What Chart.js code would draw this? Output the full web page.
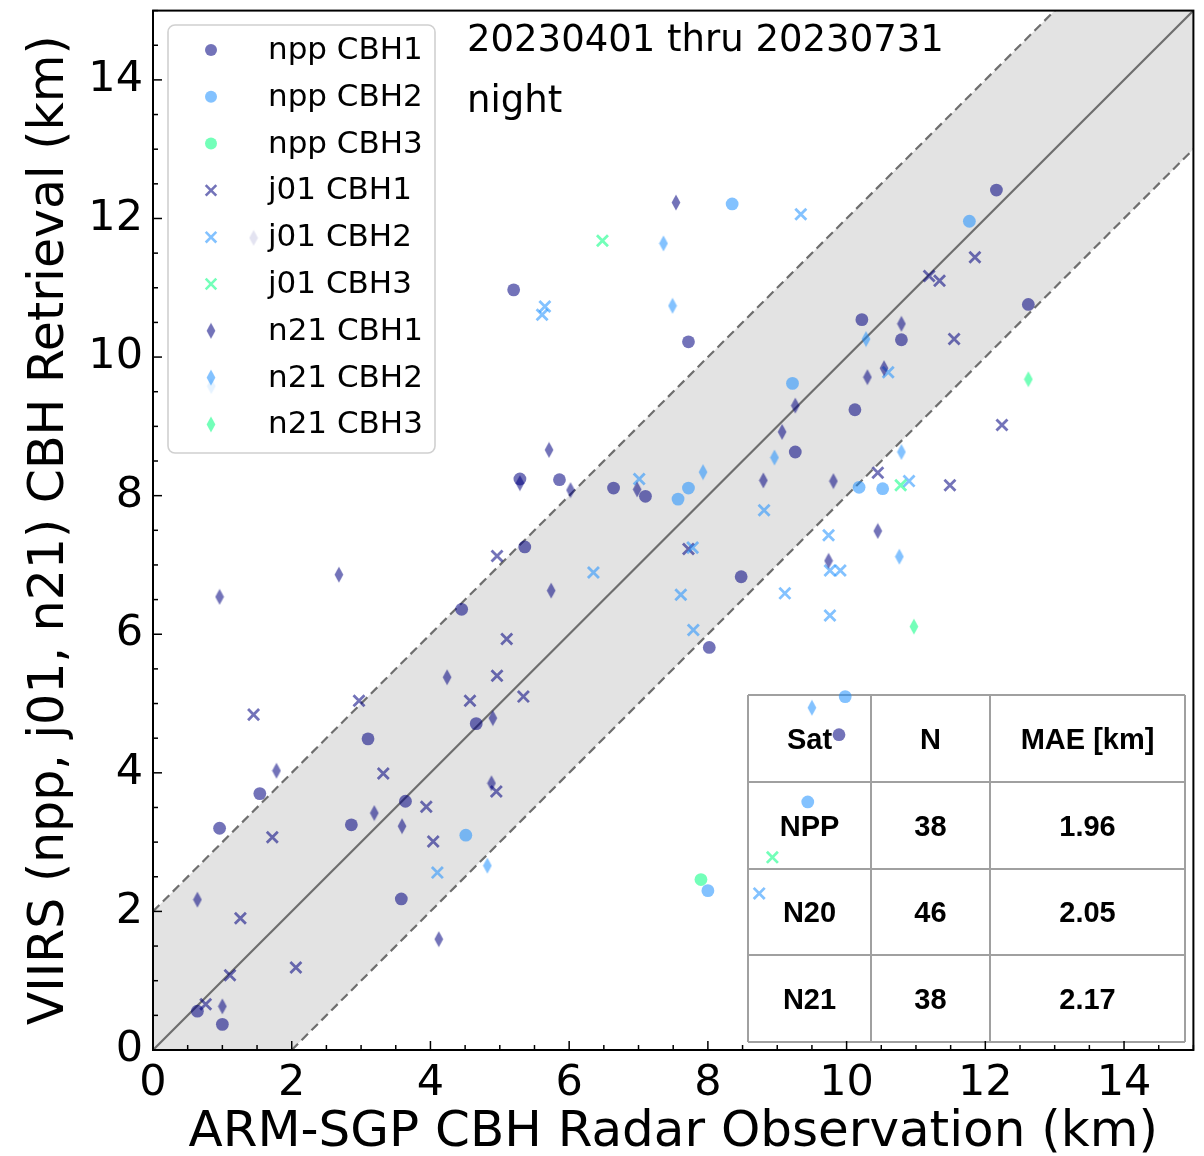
<!DOCTYPE html>
<html>
<head>
<meta charset="utf-8">
<script src="https://cdn.jsdelivr.net/npm/chart.js"></script>
<style>
  html, body { margin: 0; padding: 0; background: #fff; }
  #wrap { width: 1204px; height: 1156px; position: relative; }
</style>
</head>
<body>
<div id="wrap"><canvas id="cbhChart"></canvas></div>
<script>
// values: [obs km, retrieval km]
var nppCbh1 = [[5.20,10.97],[7.72,10.22],[9.26,8.63],[5.29,8.24],[5.86,8.23],[6.64,8.11],[7.10,7.99],
  [12.16,12.41],[12.62,10.76],[10.22,10.54],[10.79,10.25],[10.12,9.24],[9.89,4.55],[8.48,6.83],
  [8.02,5.81],[5.36,7.26],[4.45,6.36],[4.66,4.71],[3.10,4.49],[1.54,3.70],[3.64,3.59],[0.96,3.20],
  [2.86,3.25],[3.58,2.18],[0.64,0.56],[1.00,0.37]];
var nppCbh2 = [[8.35,12.21],[9.22,9.62],[7.72,8.11],[7.57,7.95],[11.77,11.96],[10.18,8.12],
  [10.52,8.10],[9.98,5.10],[9.44,3.58],[4.51,3.10],[8.00,2.30]];
var nppCbh3 = [[7.90,2.46]];
var j01Cbh1 = [[11.85,11.44],[11.19,11.17],[11.34,11.10],[11.55,10.26],[12.24,9.02],[10.45,8.33],
  [11.49,8.15],[4.96,7.13],[5.10,5.93],[4.96,5.40],[4.57,5.04],[5.34,5.10],[2.97,5.04],[1.45,4.84],
  [3.32,3.99],[3.94,3.51],[4.95,3.73],[1.72,3.07],[4.04,3.01],[1.26,1.90],[2.06,1.19],[1.11,1.08],
  [0.76,0.66],[7.72,7.23]];
var j01Cbh2 = [[9.34,12.06],[5.65,10.73],[5.61,10.61],[7.01,8.24],[10.60,9.78],[10.90,8.21],
  [9.74,7.43],[9.76,6.92],[9.91,6.92],[9.11,6.59],[9.76,6.27],[8.81,7.79],[7.78,7.25],[7.61,6.57],
  [7.79,6.06],[6.35,6.89],[4.10,2.56],[8.74,2.26]];
var j01Cbh3 = [[6.48,11.68],[10.78,8.15],[8.93,2.78]];
var n21Cbh1 = [[7.54,12.23],[9.26,9.30],[9.07,8.92],[5.71,8.66],[5.29,8.18],[6.02,8.08],[6.98,8.09],
  [8.80,8.22],[9.81,8.21],[10.79,10.48],[10.54,9.84],[10.30,9.71],[10.45,7.49],[9.74,7.06],
  [5.74,6.63],[0.96,6.54],[2.68,6.86],[4.24,5.38],[4.90,4.79],[1.78,4.03],[3.19,3.42],[4.88,3.85],
  [3.59,3.23],[0.64,2.17],[4.12,1.60],[1.00,0.63],[1.45,11.72]];
var n21Cbh2 = [[7.36,11.64],[7.49,10.74],[8.96,8.55],[7.93,8.34],[10.28,10.26],[10.79,8.63],
  [10.76,7.12],[9.50,4.94],[4.82,2.66],[0.84,9.58]];
var n21Cbh3 = [[12.62,9.68],[10.97,6.11]];

var seriesNames = ['npp CBH1','npp CBH2','npp CBH3','j01 CBH1','j01 CBH2','j01 CBH3','n21 CBH1','n21 CBH2','n21 CBH3'];
var seriesData = [nppCbh1, nppCbh2, nppCbh3, j01Cbh1, j01Cbh2, j01Cbh3, n21Cbh1, n21Cbh2, n21Cbh3];

// 1:1 line and +/- 2 km band
var diagX = [0, 15];
var bandHalf = 2;

var tableHead = ['Sat', 'N', 'MAE [km]'];
var tableSat = ['NPP', 'N20', 'N21'];
var tableN = ['38', '46', '38'];
var tableMae = ['1.96', '2.05', '2.17'];

var dateText = '20230401 thru 20230731';
var timeText = 'night';

var cbhColors = ['rgba(0,0,128,0.55)', 'rgba(30,144,255,0.55)', 'rgba(0,255,127,0.55)'];

function thinDiamond(color) {
  var c = document.createElement('canvas');
  c.width = 10; c.height = 17;
  var g = c.getContext('2d');
  g.fillStyle = color;
  g.beginPath();
  g.moveTo(5, 0.5); g.lineTo(9.4, 8.5); g.lineTo(5, 16.5); g.lineTo(0.6, 8.5);
  g.closePath();
  g.fill();
  return c;
}
var diamonds = cbhColors.map(thinDiamond);

function markerStyle(i) {
  var col = cbhColors[i % 3];
  var sat = Math.floor(i / 3);
  if (sat === 0) return {pointStyle: 'circle', pointRadius: 6.4, backgroundColor: col, borderColor: col, borderWidth: 0};
  if (sat === 1) return {pointStyle: 'crossRot', pointRadius: 7.8, backgroundColor: col, borderColor: col, borderWidth: 2.8};
  return {pointStyle: diamonds[i % 3], pointRadius: 8, backgroundColor: col, borderColor: col, borderWidth: 0};
}

var datasets = [];
seriesData.forEach(function (arr, i) {
  var st = markerStyle(i);
  datasets.push({
    label: seriesNames[i],
    data: arr.map(function (p) { return {x: p[0], y: p[1]}; }),
    pointStyle: st.pointStyle,
    pointRadius: st.pointRadius,
    pointHoverRadius: st.pointRadius,
    backgroundColor: st.backgroundColor,
    borderColor: st.borderColor,
    borderWidth: st.borderWidth,
    showLine: false,
    order: 20 - i
  });
});

var lineGray = '#6e6e6e';
datasets.push({
  label: 'upper', type: 'line',
  data: diagX.map(function (v) { return {x: v, y: v + bandHalf}; }),
  borderColor: lineGray, borderWidth: 2.2, borderDash: [9, 5], pointRadius: 0,
  fill: '+1', backgroundColor: '#e3e3e3', order: 100
});
datasets.push({
  label: 'lower', type: 'line',
  data: diagX.map(function (v) { return {x: v, y: v - bandHalf}; }),
  borderColor: lineGray, borderWidth: 2.2, borderDash: [9, 5], pointRadius: 0,
  fill: false, order: 99
});
datasets.push({
  label: 'one2one', type: 'line',
  data: diagX.map(function (v) { return {x: v, y: v}; }),
  borderColor: lineGray, borderWidth: 2.2, pointRadius: 0, fill: false, order: 98
});

function drawMarker(ctx, i, x, y) {
  var col = cbhColors[i % 3];
  var sat = Math.floor(i / 3);
  ctx.save();
  if (sat === 0) {
    ctx.fillStyle = col;
    ctx.beginPath(); ctx.arc(x, y, 6, 0, Math.PI * 2); ctx.fill();
  } else if (sat === 1) {
    ctx.strokeStyle = col; ctx.lineWidth = 2.6;
    var r = 5.3;
    ctx.beginPath();
    ctx.moveTo(x - r, y - r); ctx.lineTo(x + r, y + r);
    ctx.moveTo(x + r, y - r); ctx.lineTo(x - r, y + r);
    ctx.stroke();
  } else {
    var d = diamonds[i % 3];
    ctx.drawImage(d, x - d.width / 2, y - d.height / 2);
  }
  ctx.restore();
}

var decorPlugin = {
  id: 'decor',
  beforeDatasetsDraw: function (chart) {
    var ctx = chart.ctx;
    // stats table
    var colX = [748, 871, 990, 1185];
    var rowY = [695, 782, 869, 955, 1042];
    ctx.save();
    ctx.strokeStyle = '#a0a0a0';
    ctx.lineWidth = 2;
    colX.forEach(function (x) { ctx.beginPath(); ctx.moveTo(x, rowY[0]); ctx.lineTo(x, rowY[4]); ctx.stroke(); });
    rowY.forEach(function (y) { ctx.beginPath(); ctx.moveTo(colX[0], y); ctx.lineTo(colX[3], y); ctx.stroke(); });
    ctx.fillStyle = '#000';
    ctx.font = 'bold 29px "Liberation Sans", Arial, sans-serif';
    ctx.textAlign = 'center';
    ctx.textBaseline = 'middle';
    var rows = [tableHead];
    for (var k = 0; k < tableSat.length; k++) rows.push([tableSat[k], tableN[k], tableMae[k]]);
    rows.forEach(function (row, r) {
      var cy = (rowY[r] + rowY[r + 1]) / 2 + 2;
      row.forEach(function (txt, c) {
        ctx.fillText(txt, (colX[c] + colX[c + 1]) / 2, cy);
      });
    });
    ctx.restore();
  },
  afterDatasetsDraw: function (chart) {
    var ctx = chart.ctx;
    var area = chart.chartArea;
    var xs = chart.scales.x, ys = chart.scales.y;

    // legend box
    ctx.save();
    var lx = 168, ly = 25, lw = 267, lh = 428, rr = 7;
    ctx.beginPath();
    ctx.moveTo(lx + rr, ly);
    ctx.arcTo(lx + lw, ly, lx + lw, ly + lh, rr);
    ctx.arcTo(lx + lw, ly + lh, lx, ly + lh, rr);
    ctx.arcTo(lx, ly + lh, lx, ly, rr);
    ctx.arcTo(lx, ly, lx + lw, ly, rr);
    ctx.closePath();
    ctx.fillStyle = 'rgba(255,255,255,0.8)';
    ctx.fill();
    ctx.strokeStyle = '#d0d0d0';
    ctx.lineWidth = 1.6;
    ctx.stroke();
    ctx.font = '31px "DejaVu Sans", sans-serif';
    ctx.textAlign = 'left';
    ctx.textBaseline = 'middle';
    ctx.fillStyle = '#000';
    seriesNames.forEach(function (name, i) {
      var yy = 50 + i * 46.8;
      drawMarker(ctx, i, 211, yy);
      ctx.fillStyle = '#000';
      ctx.fillText(name, 268, yy + 1);
    });
    ctx.restore();

    // period / time-of-day text
    ctx.save();
    ctx.fillStyle = '#000';
    ctx.font = '37px "DejaVu Sans", sans-serif';
    ctx.textAlign = 'left';
    ctx.textBaseline = 'alphabetic';
    ctx.fillText(dateText, 467, 51);
    ctx.fillText(timeText, 467, 112);
    ctx.restore();

    // inward ticks and frame
    ctx.save();
    ctx.strokeStyle = '#000';
    ctx.lineWidth = 1.5;
    for (var v = 0; v <= 15; v += 0.5) {
      var len = (v % 2 === 0) ? 9 : 5;
      var px = xs.getPixelForValue(v);
      ctx.beginPath(); ctx.moveTo(px, area.bottom); ctx.lineTo(px, area.bottom - len); ctx.stroke();
      var py = ys.getPixelForValue(v);
      ctx.beginPath(); ctx.moveTo(area.left, py); ctx.lineTo(area.left + len, py); ctx.stroke();
    }
    ctx.lineWidth = 2;
    ctx.strokeRect(area.left, area.top, area.right - area.left, area.bottom - area.top);
    ctx.restore();
  }
};

function evenLabel(val) {
  var n = Math.round(val * 2) / 2;
  return (n % 2 === 0) ? String(n) : '';
}

var tickFont = {family: '"DejaVu Sans", sans-serif', size: 43};
var titleFont = {family: '"DejaVu Sans", sans-serif', size: 49};

new Chart(document.getElementById('cbhChart'), {
  type: 'scatter',
  data: {datasets: datasets},
  options: {
    responsive: true,
    maintainAspectRatio: false,
    animation: false,
    layout: {padding: {top: 8, right: 8, left: 0, bottom: 0}},
    plugins: {
      legend: {display: false},
      tooltip: {enabled: false}
    },
    scales: {
      x: {
        type: 'linear', min: 0, max: 15,
        grid: {display: false, drawTicks: false},
        border: {display: false},
        ticks: {stepSize: 0.5, autoSkip: false, maxRotation: 0, padding: 8,
          color: '#000', font: tickFont, callback: evenLabel},
        title: {display: true, text: 'ARM-SGP CBH Radar Observation (km)', color: '#000',
          font: {family: titleFont.family, size: 50, lineHeight: 0.92}, padding: {top: 0, bottom: 0}},
        afterFit: function (s) { s.height = 106; s.paddingLeft = 0; s.paddingRight = 0; }
      },
      y: {
        type: 'linear', min: 0, max: 15,
        grid: {display: false, drawTicks: false},
        border: {display: false},
        ticks: {stepSize: 0.5, autoSkip: false, padding: 10,
          color: '#000', font: tickFont, callback: evenLabel},
        title: {display: true, text: 'VIIRS (npp, j01, n21) CBH Retrieval (km)', color: '#000',
          font: titleFont, padding: {top: 21, bottom: 0}},
        afterFit: function (s) { s.width = 153; s.paddingTop = 0; s.paddingBottom = 0; }
      }
    }
  },
  plugins: [decorPlugin]
});
</script>
</body>
</html>
